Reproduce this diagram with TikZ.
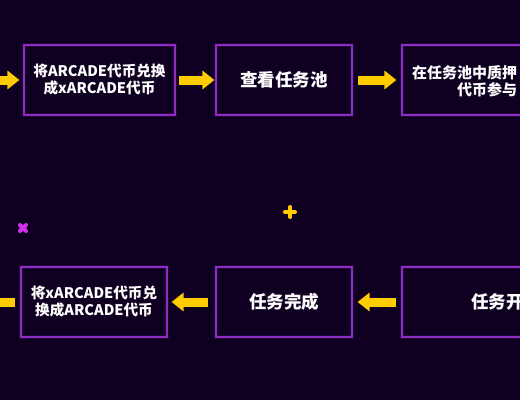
\documentclass[tikz,border=0pt]{standalone}
\usepackage{fontspec}
\newfontfamily\cjk{Noto Sans CJK SC}
\usetikzlibrary{arrows.meta}
\definecolor{bgc}{HTML}{0F0022}
\definecolor{boxc}{HTML}{8E2CC4}
\definecolor{yel}{HTML}{FFCC00}
\definecolor{mag}{HTML}{D22EF0}
\begin{document}
\begin{tikzpicture}[x=1pt,y=-1pt,
  box/.style={draw=boxc, line width=1.1pt, minimum width=#1, minimum height=70pt,
    inner sep=0pt, text=white, align=center,
    preaction={draw=boxc, line width=3.5pt, opacity=0.15},
    font=\cjk\bfseries\fontsize{14.6}{17}\selectfont},
  bigtxt/.style={font=\cjk\bfseries\fontsize{17.5}{20}\selectfont},
  lbl/.style={text=white, inner sep=0pt, font=\cjk\bfseries\fontsize{15}{17}\selectfont},
  lblbig/.style={text=white, inner sep=0pt, font=\cjk\bfseries\fontsize{17.5}{20}\selectfont},
  yarr/.style={draw=yel, line width=9pt, -{Triangle[width=18pt,length=12pt]}},
  spark/.style={line width=4pt, line cap=round}]
\fill[bgc] (0,0) rectangle (520,400);
\useasboundingbox (0,0) rectangle (520,400);
\clip (0,0) rectangle (520,400);
% top row
\node[box=151pt] (b1) at (99.5,80) {将ARCADE代币兑换\\成xARCADE代币};
\node[box=136pt, bigtxt] (b2) at (284,80) {查看任务池};
\node[box=158pt] (b3) at (481,80) {};
\node[lbl, anchor=west] (t3a) at (412,72.5) {在任务池中质押};
\node[lbl, anchor=west] (t3b) at (457,89.5) {代币参与};
% bottom row
\node[box=146pt] (bA) at (94,302) {将xARCADE代币兑\\换成ARCADE代币};
\node[box=136pt, bigtxt] (bB) at (284,302) {任务完成};
\node[box=158pt] (bC) at (481,302) {};
\node[lblbig, anchor=west] (tC) at (471,302) {任务开};
% arrows
\coordinate (tl) at (-15,80);
\coordinate (bl) at (-25,302);
\draw[yarr] (tl) -- ([xshift=-4pt]b1.west);
\draw[yarr] ([xshift=3pt]b1.east) -- ([xshift=-1pt]b2.west);
\draw[yarr] ([xshift=5pt]b2.east) -- ([xshift=-5pt]b3.west);
\draw[yarr] ([xshift=-5pt]bC.west) -- ([xshift=5pt]bB.east);
\draw[yarr] ([xshift=-7pt]bB.west) -- ([xshift=4pt]bA.east);
\draw[yarr] ([xshift=-5pt]bA.west) -- (bl);
% sparkles
\draw[spark, mag] (20,225) -- (26,231) (20,231) -- (26,225);
\draw[spark, yel] (285,212) -- (295,212) (290,207) -- (290,217);
\end{tikzpicture}
\end{document}
